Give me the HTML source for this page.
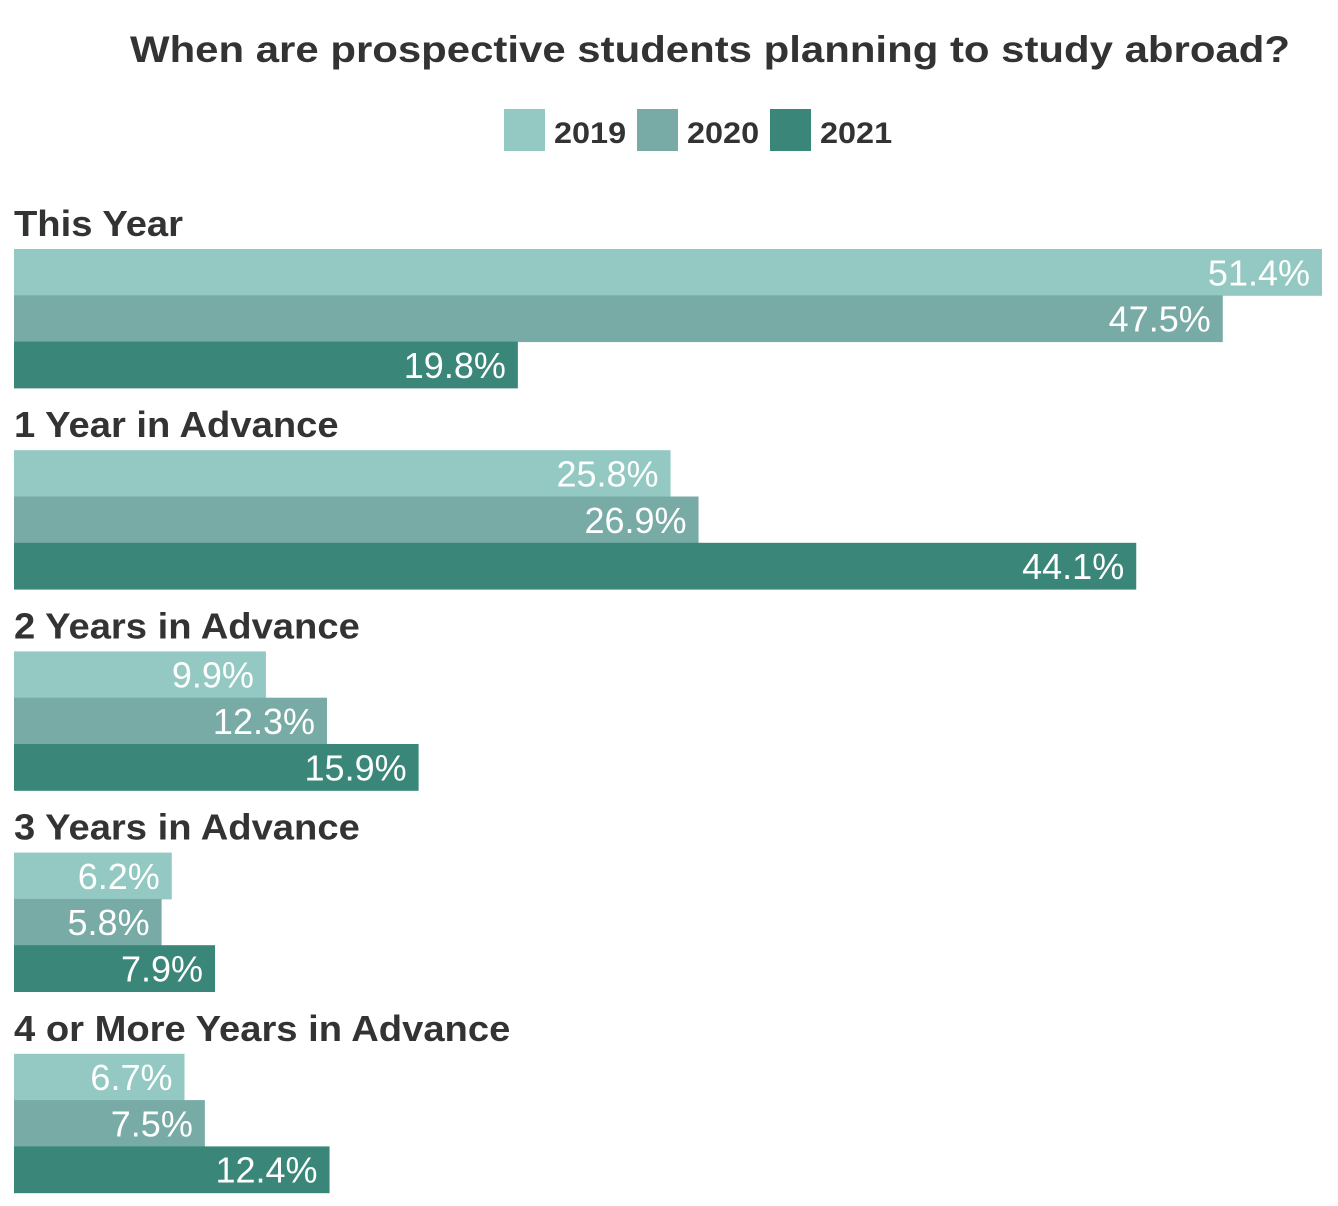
<!DOCTYPE html>
<html><head><meta charset="utf-8"><style>
html,body{margin:0;padding:0;background:#fff;}
svg{display:block;font-family:"Liberation Sans",sans-serif;}
</style></head><body>
<svg id="chart" width="1338" height="1206">
<text x="710" y="62" text-anchor="middle" font-size="37" font-weight="bold" fill="#333" textLength="1160" lengthAdjust="spacingAndGlyphs">When are prospective students planning to study abroad?</text>
<g id="legend"></g>
<g id="bars"></g>
</svg>
<script>
const categories = ["This Year","1 Year in Advance","2 Years in Advance","3 Years in Advance","4 or More Years in Advance"];
const years = ["2019","2020","2021"];
const v2019 = [51.4,25.8,9.9,6.2,6.7];
const v2020 = [47.5,26.9,12.3,5.8,7.5];
const v2021 = [19.8,44.1,15.9,7.9,12.4];
const series = [v2019,v2020,v2021];
const colors = ["#93c9c2","#78aba5","#3a8779"];
const NS="http://www.w3.org/2000/svg";
const x0=14, xMax=51.4, xEnd=1322;
function xs(v){return x0+(v/xMax)*(xEnd-x0);}
const groupTop=249, groupStep=201.2, barH=46.3;
const bars=document.getElementById('bars');
const legend=document.getElementById('legend');
function mk(tag,attrs,parent){const e=document.createElementNS(NS,tag);for(const k in attrs)e.setAttribute(k,attrs[k]);parent.appendChild(e);return e;}
function stretch(t,f){const w=t.getComputedTextLength();t.setAttribute('textLength',(w*f).toFixed(1));t.setAttribute('lengthAdjust','spacingAndGlyphs');}
const lx=[504,637,770];
years.forEach((y,i)=>{
  const r=mk('rect',{x:lx[i],y:109,width:41,height:42,fill:colors[i]},legend);
  
  
  const t=mk('text',{x:lx[i]+50,y:143,'font-size':30,'font-weight':'bold',fill:'#333'},legend);
  t.textContent=y;
  
  
  stretch(t,1.08);
});
categories.forEach((c,gi)=>{
  const gy=groupTop+gi*groupStep;
  const lab=mk('text',{x:14,y:gy-13,'font-size':36,'font-weight':'bold',fill:'#333'},bars);
  lab.textContent=c;
  
  
  stretch(lab,1.06);
  series.forEach((s,si)=>{
    const v=s[gi];
    const y=gy+si*barH;
    const r=mk('rect',{x:x0,y:y,width:xs(v)-x0,height:barH+0.5,fill:colors[si]},bars);
    
    
    const t=mk('text',{x:xs(v)-12,y:y+barH-10,'font-size':36,fill:'#fff','text-anchor':'end'},bars);
    t.textContent=v.toFixed(1)+'%';
    
    
  });
});
</script>
</body></html>
